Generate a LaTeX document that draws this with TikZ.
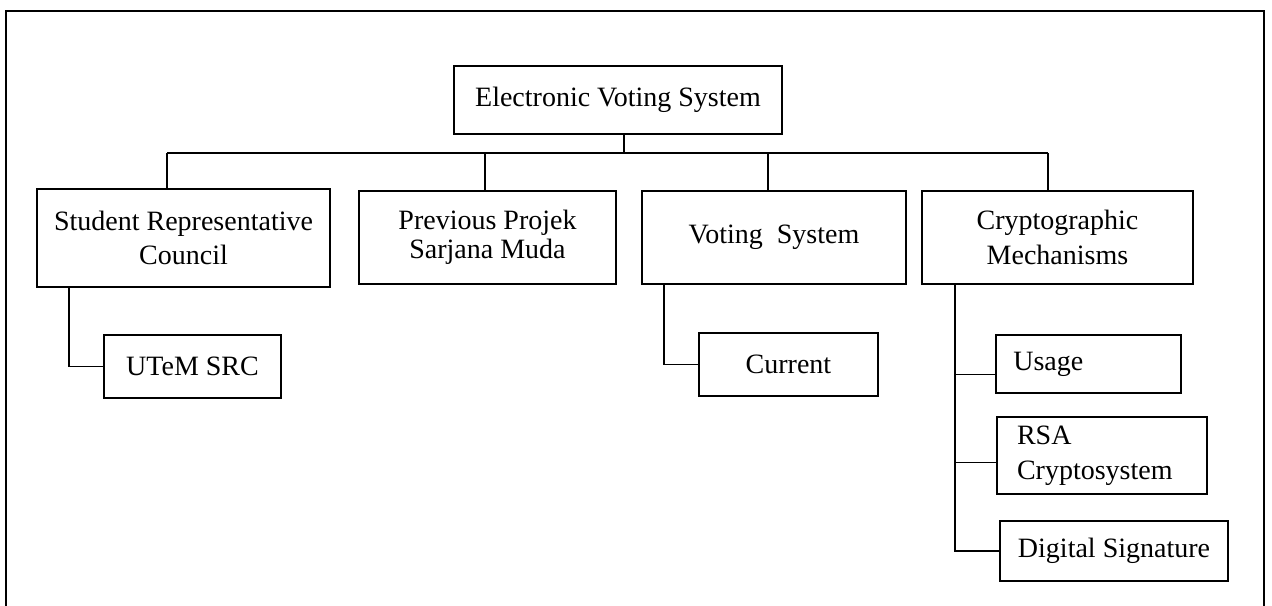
\documentclass[tikz,border=0pt]{standalone}
\usepackage{fontspec}
\setmainfont{Liberation Serif}
\usepackage{tikz}

\begin{document}
\begin{tikzpicture}[x=0.75pt,y=0.75pt,yscale=-1,xscale=1,
  box/.style={draw, line width=0.9pt, inner sep=0pt, align=center, font=\fontsize{21}{26}\selectfont},
  leftbox/.style={box, align=left, inner xsep=13pt},
  link/.style={line width=0.9pt}]
\useasboundingbox (0,0) rectangle (1272,606);
%Outer frame
\draw [line width=1.5pt] (6,606) -- (6,11) -- (1264,11) -- (1264,606) ;
% Root
\node [box, minimum width=246pt, minimum height=51pt] (evs) at (618,100) {Electronic Voting System};
% First level
\node [box, minimum width=219.75pt, minimum height=73.5pt] (src) at (183.5,238) {Student Representative\\Council};
\node [box, minimum width=192.75pt, minimum height=69.75pt, font=\fontsize{21}{22}\selectfont] (psm) at (487.5,237.5) {Previous Projek\\Sarjana Muda};
\node [box, minimum width=198pt, minimum height=69.75pt] (vot) at (774,237.5) {Voting\ \ System};
\node [box, minimum width=203.25pt, minimum height=69.75pt] (cry) at (1057.5,237.5) {Cryptographic\\Mechanisms};
% Second level
\node [box, minimum width=132.75pt, minimum height=47.25pt] (utem) at (192.5,366.5) {UTeM SRC};
\node [box, minimum width=134.25pt, minimum height=47.25pt] (cur) at (788.5,364.5) {Current};
\node [leftbox, text width=112.75pt, minimum height=43.5pt] (usage) at (1088.5,364) {Usage};
\node [leftbox, inner xsep=15pt, text width=127.5pt, minimum height=57.75pt] (rsa) at (1102,455.5) {RSA\\Cryptosystem};
\node [box, minimum width=171pt, minimum height=45pt] (ds) at (1114,551) {Digital Signature};
% Bus and legs
\coordinate (bus) at (624,153);
\coordinate (busA) at (167,153);
\coordinate (busB) at (485,153);
\coordinate (busC) at (768,153);
\coordinate (busD) at (1048,153);
\coordinate (srcleg) at (69,300);
\coordinate (votleg) at (664,300);
\coordinate (cryleg) at (955,300);
\coordinate (usagein) at ([yshift=8pt]usage.west);
\coordinate (rsain) at ([yshift=5pt]rsa.west);
\draw [link] (evs.south -| bus) -- (bus) ;
\draw [link] (busA) -- (busD) ;
\draw [link] (busA) -- (src.north -| busA) ;
\draw [link] (busB) -- (psm.north -| busB) ;
\draw [link] (busC) -- (vot.north -| busC) ;
\draw [link] (busD) -- (cry.north -| busD) ;
\draw [link] (src.south -| srcleg) |- (utem.west) ;
\draw [link] (vot.south -| votleg) |- (cur.west) ;
\draw [link] (cry.south -| cryleg) |- (ds.west) ;
\draw [link] (usagein) -- (usagein -| cryleg) ;
\draw [link] (rsain) -- (rsain -| cryleg) ;
\end{tikzpicture}
\end{document}
